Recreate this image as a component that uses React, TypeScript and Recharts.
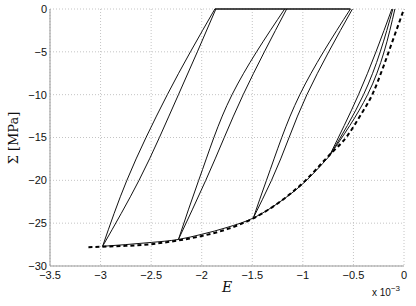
import React from 'react';
import { LineChart, Line, XAxis, YAxis, CartesianGrid, Label } from 'recharts';

// strain in units of 1e-3, stress in MPa
const strainTicks = [-3.5, -3, -2.5, -2, -1.5, -1, -0.5, 0];
const stressTicks = [-30, -25, -20, -15, -10, -5, 0];

// simulated response (solid), one branch per array: [strain, stress]
const firstLoad = [[-0.09, 0], [-0.36, -10], [-0.74, -17.2]];
const unload4 = [[-0.12, 0], [-0.45, -10], [-0.74, -17.2]];
const reload4 = [[-0.11, 0], [-0.4, -10], [-0.74, -17.2]];
const unload3 = [[-0.53, 0], [-1.03, -10], [-1.36, -20], [-1.49, -24.4]];
const reload3 = [[-0.51, 0], [-0.96, -10], [-1.31, -20], [-1.49, -24.4]];
const unload2 = [[-1.18, 0], [-1.7, -10], [-2.03, -20], [-2.23, -26.9]];
const reload2 = [[-1.16, 0], [-1.59, -10], [-1.96, -20], [-2.23, -26.9]];
const unload1 = [[-1.87, 0], [-2.34, -10], [-2.74, -20], [-2.98, -27.7]];
const reload1 = [[-1.86, 0], [-2.23, -10], [-2.62, -20], [-2.98, -27.7]];
const simEnvelope = [[-2.98, -27.7], [-2.75, -27.5], [-2.5, -27.25], [-2.23, -26.9], [-2.0, -26.3], [-1.75, -25.5], [-1.49, -24.4], [-1.25, -22.7], [-1.0, -20.4], [-0.74, -17.2]];
const zeroStress = [[-1.87, 0], [-0.53, 0]];

// envelope (dashed)
const envStrain = [-3.12, -3.0, -2.75, -2.5, -2.25, -2.0, -1.75, -1.5, -1.25, -1.0, -0.75, -0.56, -0.43, -0.31, -0.2, -0.1, 0];
const envStress = [-27.8, -27.75, -27.65, -27.45, -27.05, -26.5, -25.7, -24.5, -22.7, -20.3, -17.2, -14.8, -12.4, -9.9, -6.6, -3.3, 0];

const toPts = (arr: number[][]) => arr.map(([x, y]) => ({ x, y }));
const branches = [firstLoad, unload4, reload4, unload3, reload3, unload2, reload2, unload1, reload1];
const envData = envStrain.map((x, i) => ({ x, y: envStress[i] }));

const fmt = (v: number) => (v === 0 ? '0' : (v < 0 ? '\u2212' : '') + Math.abs(v));
const tickStyle = { fontSize: 11, fill: '#111', fontFamily: 'Liberation Sans, Arial, sans-serif' };

export default function App() {
  return (
    <div style={{ position: 'absolute', left: 0, top: 0, width: 416, height: 306, background: '#fff' }}>
      <LineChart width={416} height={306} margin={{ top: 9, right: 12, bottom: 0, left: 0 }}>
        <CartesianGrid stroke="#c4c4c4" strokeDasharray="1 2" />
        <XAxis
          type="number"
          dataKey="x"
          domain={[-3.5, 0]}
          ticks={strainTicks}
          interval={0}
          tickFormatter={fmt}
          tick={tickStyle}
          tickLine={false}
          tickSize={0}
          tickMargin={5}
          height={40}
          stroke="#999"
          allowDuplicatedCategory={false}
        >
          <Label
            content={() => (
              <g>
                <text x={227} y={292} textAnchor="middle" fontFamily="DejaVu Serif, serif" fontStyle="italic" fontSize={14} fill="#111">E</text>
                <text x={372} y={296} fontFamily="Liberation Sans, Arial, sans-serif" fontSize={10} fill="#111">
                  x 10<tspan dy={-5} fontSize={8}>{'\u22123'}</tspan>
                </text>
              </g>
            )}
          />
        </XAxis>
        <YAxis
          type="number"
          dataKey="y"
          domain={[-30, 0]}
          ticks={stressTicks}
          interval={0}
          tickFormatter={fmt}
          tick={tickStyle}
          tickLine={false}
          tickSize={0}
          tickMargin={3}
          width={50}
          stroke="#999"
        >
          <Label
            content={() => (
              <text x={18} y={138} textAnchor="middle" transform="rotate(-90 18 138)" fontFamily="DejaVu Serif, serif" fontSize={13} fill="#111">
                {'\u03a3 [MPa]'}
              </text>
            )}
          />
        </YAxis>
        {branches.map((b, i) => (
          <Line key={i} data={toPts(b)} dataKey="y" type="monotoneY" stroke="#111" strokeWidth={1} dot={false} isAnimationActive={false} />
        ))}
        <Line data={toPts(simEnvelope)} dataKey="y" type="monotone" stroke="#111" strokeWidth={1} dot={false} isAnimationActive={false} />
        <Line data={toPts(zeroStress)} dataKey="y" type="linear" stroke="#111" strokeWidth={1.3} dot={false} isAnimationActive={false} />
        <Line data={envData} dataKey="y" type="monotone" stroke="#000" strokeWidth={2} strokeDasharray="4 3" dot={false} isAnimationActive={false} />
      </LineChart>
    </div>
  );
}
